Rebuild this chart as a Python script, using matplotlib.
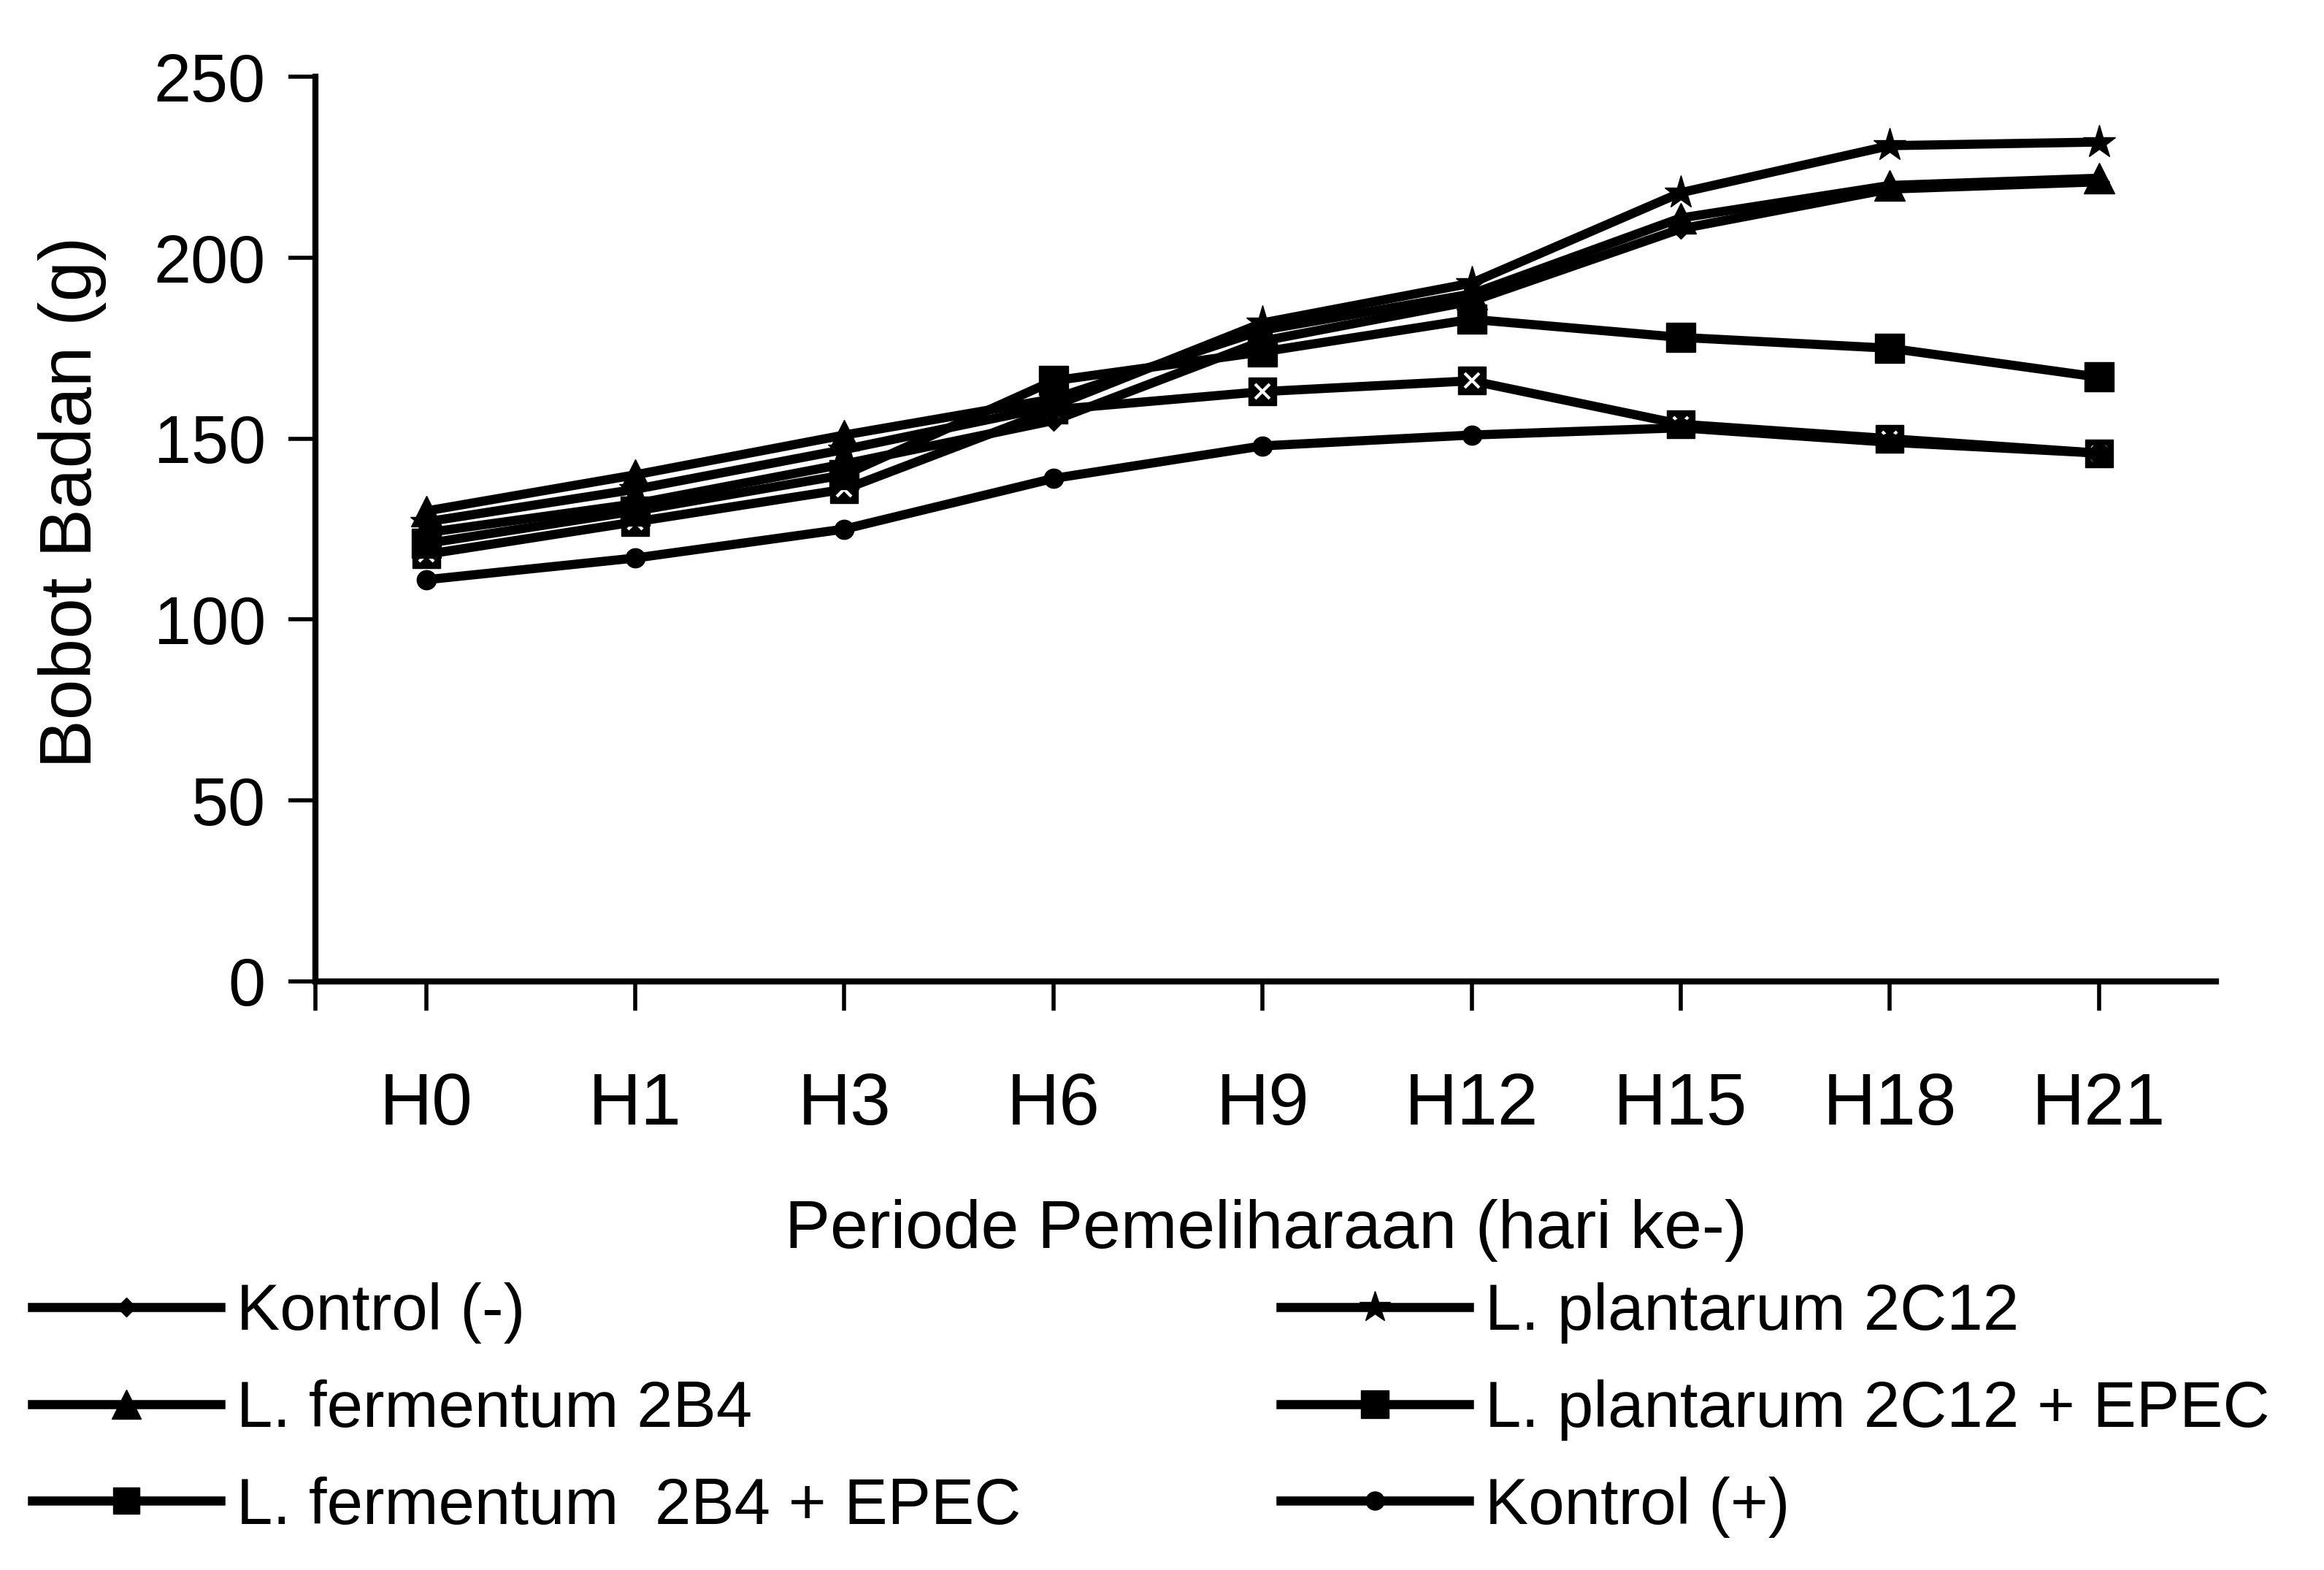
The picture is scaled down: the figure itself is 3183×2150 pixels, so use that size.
import matplotlib
matplotlib.use('Agg')
import matplotlib.pyplot as plt

plt.rcParams['font.family'] = ['Liberation Sans Narrow', 'Liberation Sans', 'DejaVu Sans']

# Data (body weight in grams)
periods = ['H0', 'H1', 'H3', 'H6', 'H9', 'H12', 'H15', 'H18', 'H21']
kontrol_neg = [124, 132, 143, 155, 177, 188, 208, 219, 221]
fermentum = [130, 140, 151, 161, 180, 190, 211, 220, 222]
fermentum_epec = [118, 127, 136, 158, 163, 166, 154, 150, 146]
plantarum = [127, 136, 147, 159, 182, 193, 218, 231, 232]
plantarum_epec = [121, 130, 140, 166, 174, 183, 178, 175, 167]
kontrol_pos = [111, 117, 125, 139, 148, 151, 153, 149, 146]

series_labels = ['Kontrol (-)', 'L. fermentum 2B4', 'L. fermentum  2B4 + EPEC',
                 'L. plantarum 2C12', 'L. plantarum 2C12 + EPEC', 'Kontrol (+)']
yticks = [0, 50, 100, 150, 200, 250]

fig = plt.figure(figsize=(31.83, 21.5), dpi=100)
ax = fig.add_axes([0.1357, 0.375, 0.8178, 0.576])

x = list(range(len(periods)))
lw = 9

ax.plot(x, kontrol_neg, color='black', lw=lw, marker='D', ms=14, label=series_labels[0])
ax.plot(x, fermentum, color='black', lw=lw, marker='^', ms=30, label=series_labels[1])
ax.plot(x, fermentum_epec, color='black', lw=lw, marker='s', ms=27, label=series_labels[2])
ax.plot(x, fermentum_epec, ls='none', marker='x', ms=15, mew=3, color='white')
ax.plot(x, plantarum, color='black', lw=lw, marker='*', ms=34, label=series_labels[3])
ax.plot(x, plantarum_epec, color='black', lw=lw, marker='s', ms=29, label=series_labels[4])
ax.plot(x, kontrol_pos, color='black', lw=lw, marker='o', ms=19, label=series_labels[5])

xmin, xmax = -0.53, 8.56
ax.set_xlim(xmin, xmax)
ax.set_ylim(0, 250)
ax.set_xticks(x)
ax.set_xticklabels(periods)
ax.set_xticks([xmin], minor=True)
ax.set_yticks(yticks)

for side in ['top', 'right']:
    ax.spines[side].set_visible(False)
for side in ['left', 'bottom']:
    ax.spines[side].set_linewidth(6)

ax.tick_params(axis='y', direction='out', length=27, width=4, pad=22, labelsize=66)
ax.tick_params(axis='x', which='major', direction='out', length=29, width=4, pad=60, labelsize=72)
ax.tick_params(axis='x', which='minor', direction='out', length=29, width=4)

ax.set_xlabel('Periode Pemeliharaan (hari ke-)', fontsize=67, labelpad=58)
ax.set_ylabel('Bobot Badan (g)', fontsize=72)
ax.yaxis.set_label_coords(-0.11, 0.53)

fig.legend(loc='lower left', bbox_to_anchor=(0.0, 0.0), ncol=2, frameon=False,
           fontsize=64, handlelength=2.9, handletextpad=0.25, columnspacing=4.0,
           labelspacing=0.55, markerscale=0.95, borderpad=0.3, borderaxespad=0.2)

fig.savefig('out.png', dpi=100, facecolor='white')
